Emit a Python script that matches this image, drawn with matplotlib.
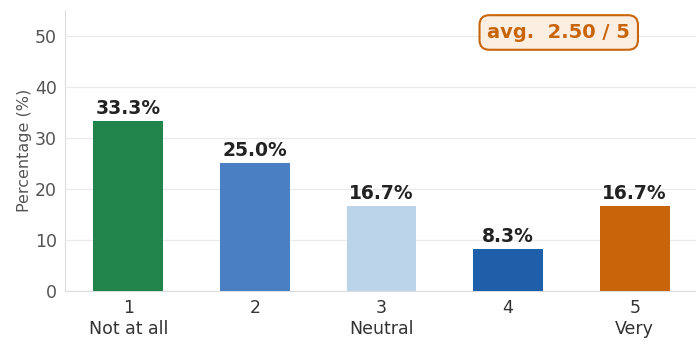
import matplotlib
matplotlib.use("Agg")
import matplotlib.pyplot as plt

# data
scores = ["1", "2", "3", "4", "5"]
anchors = ["Not at all", "", "Neutral", "", "Very"]
percents = [33.3, 25.0, 16.7, 8.3, 16.7]
avg_score = 2.50
bar_colors = ["#21844b", "#4a7fc4", "#bcd4ea", "#1f5fa9", "#c8640a"]

fig = plt.figure(figsize=(6.96, 3.41), dpi=100)
ax = fig.add_axes([65 / 696, 50 / 341, 633 / 696, 281 / 341])

x = list(range(len(scores)))
ax.bar(x, percents, width=0.55, color=bar_colors, zorder=3)

for xi, p in zip(x, percents):
    ax.text(xi, p + 0.6, f"{p:.1f}%", ha="center", va="bottom",
            fontsize=13.5, fontweight="bold", color="#222222", zorder=4)

ax.set_xlim(-0.5, 4.5)
ax.set_ylim(0, 55)
ax.set_yticks([0, 10, 20, 30, 40, 50])
ax.set_xticks(x)
ax.set_xticklabels([f"{s}\n{a}" for s, a in zip(scores, anchors)],
                   fontsize=12.5, color="#333333")
ax.tick_params(axis="y", labelsize=12.5, labelcolor="#555555", length=0, pad=6)
ax.tick_params(axis="x", length=0, pad=6)
ax.set_ylabel("Percentage (%)", fontsize=11.5, color="#555555", labelpad=2)

ax.grid(axis="y", color="#ebebeb", linewidth=1, zorder=0)
for side in ["top", "right"]:
    ax.spines[side].set_visible(False)
for side in ["left", "bottom"]:
    ax.spines[side].set_color("#dddddd")

ax.text(0.78, 0.92, f"avg.  {avg_score:.2f} / 5", transform=ax.transAxes,
        ha="center", va="center", fontsize=14, fontweight="bold", color="#c8640a",
        bbox=dict(boxstyle="round,pad=0.4,rounding_size=0.5", facecolor="#fdeee2",
                  edgecolor="#c8640a", linewidth=1.5), zorder=5)

fig.savefig("out.png", dpi=100)
